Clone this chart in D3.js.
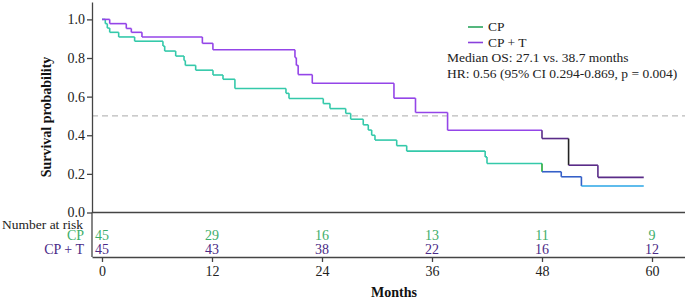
<!DOCTYPE html>
<html>
<head>
<meta charset="utf-8">
<script src="https://cdn.jsdelivr.net/npm/d3@7"></script>
<style>
  body { margin: 0; background: #fff; }
  svg, svg text { font-family: 'Liberation Serif', 'DejaVu Serif', serif !important; }
</style>
</head>
<body>
<div id="km"></div>
<script>
// CP arm: event times (months) and survival after each step
const cpTimes = [0, 0.36, 0.58, 0.84, 1.82, 3.56, 6.65, 6.84, 8.04, 8.95, 9.09, 10.22, 12.11, 13.2, 14.5,
  20.07, 20.4, 24.14, 24.87, 26.59, 27.13, 28.5, 29.05, 29.42, 29.78, 32.15, 33.24, 41.8, 42.0, 48.0, 50.1, 52.3];
const cpSurv = [1, 0.978, 0.955, 0.933, 0.909, 0.887, 0.862, 0.836, 0.81, 0.787, 0.762, 0.737, 0.712, 0.69, 0.642,
  0.617, 0.59, 0.564, 0.538, 0.513, 0.483, 0.454, 0.427, 0.40, 0.375, 0.346, 0.318, 0.288, 0.254, 0.211, 0.185, 0.137];
const cpEnd = 59.1;

// CP + T arm
const cptTimes = [0, 0.84, 2.65, 3.2, 4.36, 10.95, 12.1, 21.05, 21.2, 21.4, 22.94, 31.85, 34.2, 37.7, 48.0, 50.9, 54.1];
const cptSurv = [1, 0.978, 0.953, 0.933, 0.909, 0.876, 0.843, 0.802, 0.762, 0.714, 0.669, 0.592, 0.518, 0.426, 0.383, 0.245, 0.182];
const cptEnd = 59.1;

const xTicks = [0, 12, 24, 36, 48, 60];
const yTicks = [0, 0.2, 0.4, 0.6, 0.8, 1.0];
const riskCP = [45, 29, 16, 13, 11, 9];
const riskCPT = [45, 43, 38, 22, 16, 12];
const legendLabels = ["CP", "CP + T"];
const noteLines = ["Median OS: 27.1 vs. 38.7 months", "HR: 0.56 (95% CI 0.294-0.869, p = 0.004)"];

const W = 685, H = 300;
const FONT = "'Liberation Serif', 'DejaVu Serif', serif";
const svg = d3.select('#km').append('svg').attr('width', W).attr('height', H)
  .attr('font-family', FONT);

const xScale = d3.scaleLinear().domain([-1.09, 63.6]).range([92, 685]);
const yScale = d3.scaleLinear().domain([0, 1.09]).range([212.5, 2]);
const axisCol = '#444';

// median reference line
svg.append('line')
  .attr('x1', xScale.range()[0]).attr('x2', xScale.range()[1])
  .attr('y1', yScale(0.5)).attr('y2', yScale(0.5))
  .attr('stroke', '#bbb').attr('stroke-width', 1.3).attr('stroke-dasharray', '6,4');

// y axis
let yAxisG = svg.append('g').attr('transform', 'translate(92,0)')
  .call(d3.axisLeft(yScale).tickValues(yTicks).tickFormat(d3.format('.1f')).tickSize(5).tickPadding(2).tickSizeOuter(0))
  .attr('font-family', FONT);
yAxisG.select('.domain').attr('stroke', axisCol).attr('stroke-width', 1.3);
yAxisG.selectAll('.tick line').attr('stroke', axisCol).attr('stroke-width', 1.3);
yAxisG.selectAll('.tick text').attr('font-size', 14).attr('fill', '#222');

// bottom of the plot panel
svg.append('line')
  .attr('x1', 92).attr('x2', 685).attr('y1', yScale(0)).attr('y2', yScale(0))
  .attr('stroke', axisCol).attr('stroke-width', 1.3);

svg.append('text')
  .attr('transform', 'translate(51,117) rotate(-90)')
  .attr('text-anchor', 'middle').attr('font-size', 14).attr('font-weight', 'bold')
  .attr('fill', '#111').text('Survival probability');

// step curves, drawn segment by segment so colours can shift along time
function drawCurve(times, surv, end, hColor, vColor) {
  let g = svg.append('g').attr('fill', 'none').attr('stroke-width', 1.6);
  for (let i = 0; i < times.length; i++) {
    let t0 = times[i];
    let t1 = i + 1 < times.length ? times[i + 1] : end;
    g.append('line')
      .attr('x1', xScale(t0)).attr('x2', xScale(t1))
      .attr('y1', yScale(surv[i])).attr('y2', yScale(surv[i]))
      .attr('stroke', hColor(t0));
    if (i + 1 < times.length) {
      g.append('line')
        .attr('x1', xScale(t1)).attr('x2', xScale(t1))
        .attr('y1', yScale(surv[i])).attr('y2', yScale(surv[i + 1]))
        .attr('stroke', vColor(t1));
    }
  }
}

drawCurve(cpTimes, cpSurv, cpEnd,
  t => t < 48 ? '#34c9aa' : (t < 52.3 ? '#3560c8' : '#2aa6e6'),
  t => t < 48 ? '#34c9aa' : (t === 48 ? '#22aa3a' : '#3560c8'));
drawCurve(cptTimes, cptSurv, cptEnd,
  t => t < 48 ? '#9445e8' : '#5a2c88',
  t => t < 48 ? '#9445e8' : (t === 50.9 ? '#222' : '#5a2c88'));

// legend
const legendColors = ['#2aa55e', '#8a40dc'];
legendLabels.forEach((lab, i) => {
  let y = 27 + i * 15.5;
  svg.append('line').attr('x1', 468).attr('x2', 483).attr('y1', y).attr('y2', y)
    .attr('stroke', legendColors[i]).attr('stroke-width', 1.6);
  svg.append('text').attr('x', 488).attr('y', y + 4.3).attr('font-size', 13.5).attr('fill', '#222').text(lab);
});
noteLines.forEach((s, i) => {
  svg.append('text').attr('x', 447).attr('y', 62 + i * 16.3).attr('font-size', 13.5).attr('fill', '#222').text(s);
});

// risk table
svg.append('line').attr('x1', 92).attr('x2', 92).attr('y1', yScale(0)).attr('y2', 257)
  .attr('stroke', axisCol).attr('stroke-width', 1.3);
svg.append('text').attr('x', 83).attr('y', 228.5).attr('text-anchor', 'end')
  .attr('font-size', 13.5).attr('fill', '#222').text('Number at risk');
const riskRows = [
  { label: legendLabels[0], vals: riskCP, color: '#3dae6a', y: 239.5 },
  { label: legendLabels[1], vals: riskCPT, color: '#4b2a86', y: 253.5 }
];
riskRows.forEach(r => {
  svg.append('text').attr('x', 84).attr('y', r.y).attr('text-anchor', 'end')
    .attr('font-size', 14).attr('fill', r.color).text(r.label);
  svg.selectAll(null).data(r.vals).enter().append('text')
    .attr('x', (d, i) => xScale(xTicks[i])).attr('y', r.y)
    .attr('text-anchor', 'middle').attr('font-size', 14).attr('fill', r.color)
    .text(d => d);
});

// x axis under the risk table
let xAxisG = svg.append('g').attr('transform', 'translate(0,257)')
  .call(d3.axisBottom(xScale).tickValues(xTicks).tickSize(5).tickPadding(4).tickSizeOuter(0))
  .attr('font-family', FONT);
xAxisG.select('.domain').attr('stroke', axisCol).attr('stroke-width', 1.3);
xAxisG.selectAll('.tick line').attr('stroke', axisCol).attr('stroke-width', 1.3);
xAxisG.selectAll('.tick text').attr('font-size', 14).attr('fill', '#222');

svg.append('text').attr('x', 394).attr('y', 297).attr('text-anchor', 'middle')
  .attr('font-size', 14).attr('font-weight', 'bold').attr('fill', '#111').text('Months');
</script>
</body>
</html>
